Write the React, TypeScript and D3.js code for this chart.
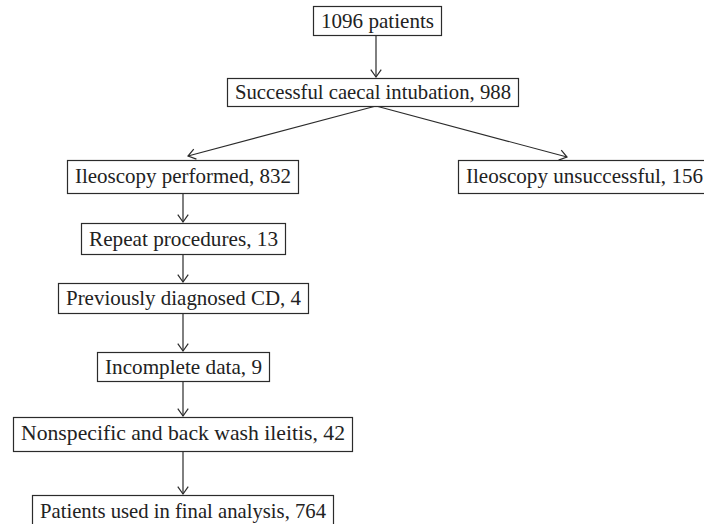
import { useEffect, useRef } from "react";
import { select, line } from "d3";

// flowchart contents
const labels = [
  "1096 patients",
  "Successful caecal intubation, 988",
  "Ileoscopy performed, 832",
  "Ileoscopy unsuccessful, 156",
  "Repeat procedures, 13",
  "Previously diagnosed CD, 4",
  "Incomplete data, 9",
  "Nonspecific and back wash ileitis, 42",
  "Patients used in final analysis, 764",
];
// links between boxes (index from -> index to)
const links = [
  [0, 1],
  [1, 2],
  [1, 3],
  [2, 4],
  [4, 5],
  [5, 6],
  [6, 7],
  [7, 8],
];

// box geometry: left, top, width, height
const layout = [
  { x: 313, y: 6, w: 128, h: 29 },
  { x: 227, y: 78, w: 291, h: 28 },
  { x: 67, y: 160, w: 231, h: 33 },
  { x: 458, y: 160, w: 252, h: 33 },
  { x: 81, y: 223, w: 204, h: 31 },
  { x: 58, y: 283, w: 250, h: 30 },
  { x: 97, y: 352, w: 172, h: 29 },
  { x: 13, y: 417, w: 339, h: 34 },
  { x: 32, y: 495, w: 301, h: 36 },
];
// where the diagonal arrows land
const branchTips = { 2: [188, 156], 3: [567, 157] } as Record<number, number[]>;

export default function App() {
  const svgRef = useRef<SVGSVGElement>(null);

  useEffect(() => {
    const svg = select(svgRef.current);
    svg.selectAll("*").remove();
    const stroke = "#2b2b2b";
    const path = line();

    const nodes = labels.map((label, i) => ({ label, ...layout[i] }));

    // connectors
    links.forEach(([a, b]) => {
      const from = nodes[a];
      const to = nodes[b];
      let x0 = from.x + from.w / 2;
      let y0 = from.y + from.h;
      let x1: number, y1: number;
      if (branchTips[b]) {
        x0 = 376;
        [x1, y1] = branchTips[b];
      } else {
        if (a === 0) x0 = 376;
        else x0 = 183;
        x1 = x0;
        y1 = to.y - 1;
      }
      svg.append("path")
        .attr("d", path([[x0, y0], [x1, y1]]))
        .attr("stroke", stroke)
        .attr("stroke-width", 1.2)
        .attr("fill", "none");
      // open arrow head
      const ang = Math.atan2(y1 - y0, x1 - x0);
      const len = 9, spread = 0.62;
      const p1: [number, number] = [x1 - len * Math.cos(ang - spread), y1 - len * Math.sin(ang - spread)];
      const p2: [number, number] = [x1 - len * Math.cos(ang + spread), y1 - len * Math.sin(ang + spread)];
      svg.append("path")
        .attr("d", path([p1, [x1, y1], p2]))
        .attr("stroke", stroke)
        .attr("stroke-width", 1.2)
        .attr("fill", "none");
    });

    // boxes
    const g = svg.selectAll(".node")
      .data(nodes)
      .join("g")
      .attr("class", "node");

    g.append("rect")
      .attr("x", d => d.x + 0.5)
      .attr("y", d => d.y + 0.5)
      .attr("width", d => d.w)
      .attr("height", d => d.h)
      .attr("fill", "white")
      .attr("stroke", stroke)
      .attr("stroke-width", 1.2);

    g.append("text")
      .attr("x", d => d.x + d.w / 2 + 0.5)
      .attr("y", d => d.y + Math.min(d.h, 32) / 2 + 7)
      .attr("text-anchor", "middle")
      .style("font-family", "'Liberation Serif', 'DejaVu Serif', 'Times New Roman', serif")
      .style("font-size", "21px")
      .attr("fill", "#222")
      .attr("textLength", d => d.w - 15)
      .attr("lengthAdjust", "spacingAndGlyphs")
      .text(d => d.label);
  }, []);

  return (
    <div style={{ position: "absolute", left: 0, top: 0 }}>
      <svg ref={svgRef} width={704} height={524} style={{ display: "block" }}></svg>
    </div>
  );
}
